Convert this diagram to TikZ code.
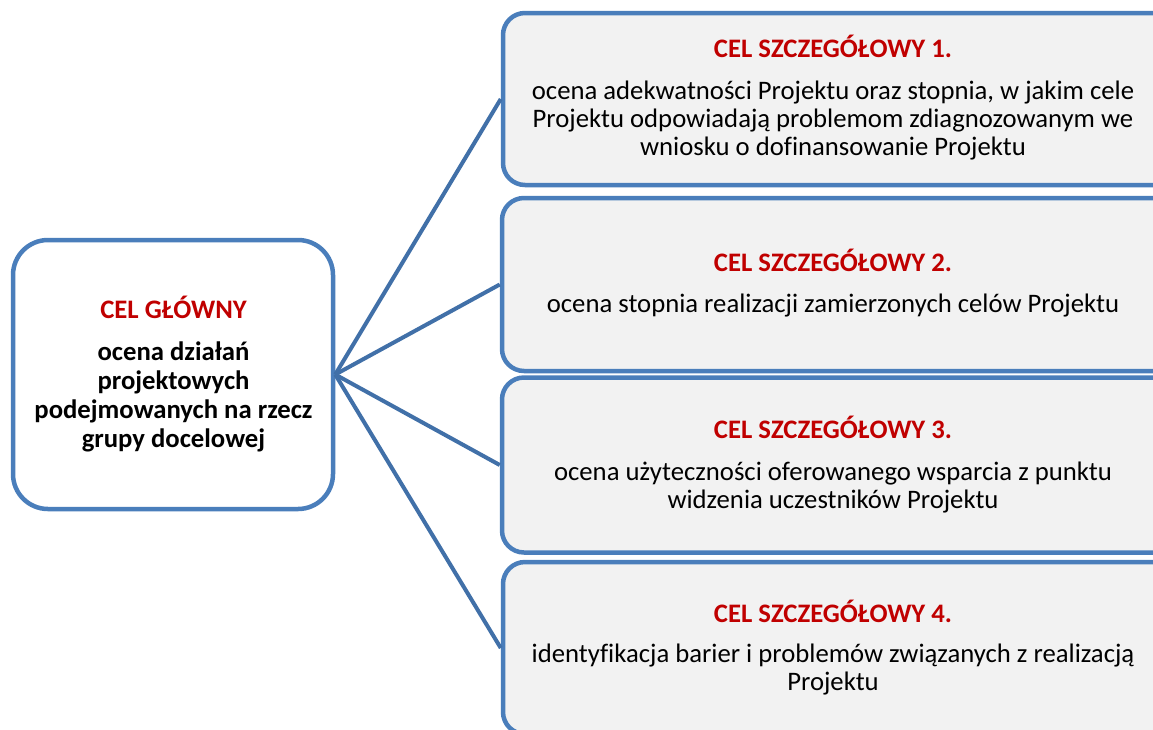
\documentclass[tikz,border=0pt]{standalone}
\usepackage{fontspec}
\setmainfont{Carlito}[Ligatures=CommonOff]
\definecolor{boxblue}{RGB}{74,126,187}
\definecolor{lineblue}{RGB}{65,112,168}
\definecolor{boxgray}{RGB}{242,242,242}
\definecolor{titlered}{RGB}{192,0,0}
\tikzset{
  goalbox/.style={draw=boxblue, line width=4.5pt, fill=boxgray, rounded corners=22pt,
    rectangle, inner sep=0pt, minimum width=690pt},
  mainbox/.style={draw=boxblue, line width=4.5pt, fill=white, rounded corners=35pt,
    rectangle, inner sep=0pt, minimum width=320pt, minimum height=269pt},
  conn/.style={draw=lineblue, line width=4pt},
  titletext/.style={anchor=base, inner sep=0pt, text=titlered,
    font=\fontsize{26.7}{28}\selectfont\bfseries},
  bodytext/.style={anchor=north, inner sep=0pt, align=center,
    font=\fontsize{26.7}{28}\selectfont},
  mainbody/.style={anchor=north, inner sep=0pt, align=center,
    font=\fontsize{26.7}{29}\selectfont\bfseries}
}
\begin{document}
\begin{tikzpicture}[x=1pt,y=-1pt]
\useasboundingbox (0,0) rectangle (1153,729);
\clip (0,0) rectangle (1153,729);
% boxes
\node[mainbox] (b0) at (173,374.5) {};
\node[goalbox, minimum height=172pt] (b1) at (848,99) {};
\node[goalbox, minimum height=173pt] (b2) at (847,284.5) {};
\node[goalbox, minimum height=175pt] (b3) at (847,465) {};
\node[goalbox, minimum height=172pt] (b4) at (848,648) {};
% connectors
\draw[conn] (b0.east) -- (b1.west);
\draw[conn] (b0.east) -- (b2.west);
\draw[conn] (b0.east) -- (b3.west);
\draw[conn] (b0.east) -- (b4.west);
% texts
\node[titletext] (t0) at (173.5,318) {CEL GŁÓWNY};
\node[mainbody] (d0) at (173.5,339.7) {\strut ocena działań\\projektowych\\podejmowanych na rzecz\\grupy docelowej};
\node[titletext] (t1) at (833,57) {CEL SZCZEGÓŁOWY 1.};
\node[bodytext] (d1) at (833,79.4) {\strut ocena adekwatności Projektu oraz stopnia, w jakim cele\\Projektu odpowiadają problemom zdiagnozowanym we\\wniosku o dofinansowanie Projektu};
\node[titletext] (t2) at (833,271) {CEL SZCZEGÓŁOWY 2.};
\node[bodytext] (d2) at (833,292.4) {\strut ocena stopnia realizacji zamierzonych celów Projektu};
\node[titletext] (t3) at (833,438) {CEL SZCZEGÓŁOWY 3.};
\node[bodytext] (d3) at (833,460.4) {\strut ocena użyteczności oferowanego wsparcia z punktu\\widzenia uczestników Projektu};
\node[titletext] (t4) at (833,622) {CEL SZCZEGÓŁOWY 4.};
\node[bodytext] (d4) at (833,642.4) {\strut identyfikacja barier i problemów związanych z realizacją\\Projektu};
\end{tikzpicture}
\end{document}
